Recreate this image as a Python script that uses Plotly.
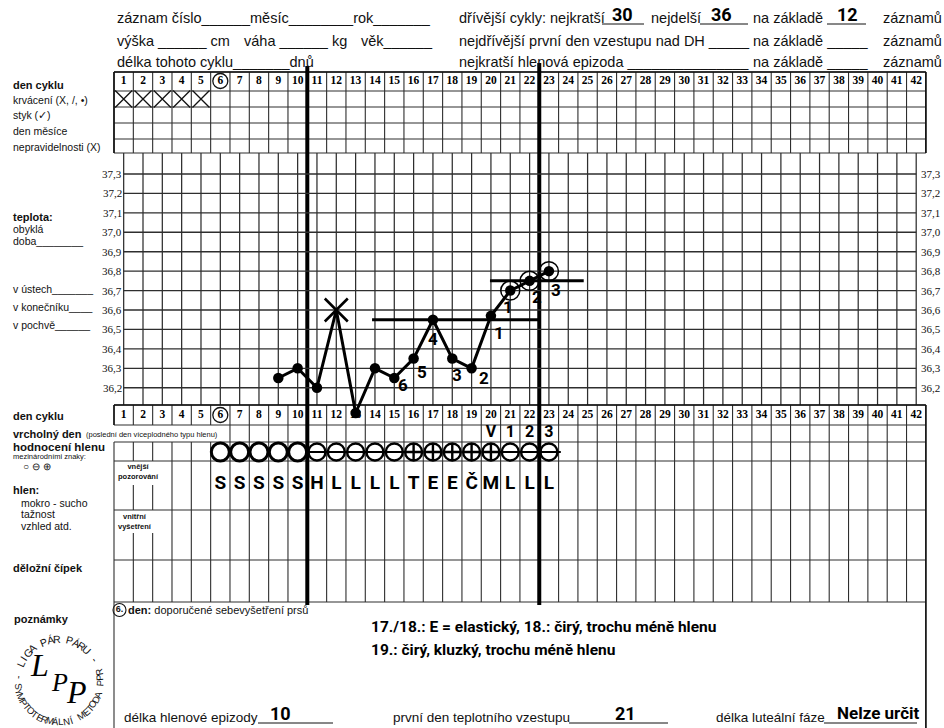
import math
import plotly.graph_objects as go

# ---------------- data ----------------
CYCLE_DAYS = list(range(1, 43))
TEMP_DAYS = [9, 10, 11, 12, 13, 14, 15, 16, 17, 18, 19, 20, 21, 22, 23]
TEMPS = [36.25, 36.30, 36.20, 36.60, 36.07, 36.30, 36.25, 36.35, 36.55, 36.35, 36.30, 36.57, 36.70, 36.75, 36.80]
DISTURBED_DAYS = [12]
CONFIRMED_DAYS = [21, 22, 23]
TEMP_TICKS = [37.3, 37.2, 37.1, 37.0, 36.9, 36.8, 36.7, 36.6, 36.5, 36.4, 36.3, 36.2]
TEMP_TICK_TEXT = ["37,3", "37,2", "37,1", "37,0", "36,9", "36,8", "36,7", "36,6", "36,5", "36,4", "36,3", "36,2"]
COUNT_DAYS = [15, 16, 17, 18, 19, 20, 21, 22, 23]
COUNT_TEXT = ["6", "5", "4", "3", "2", "1", "1", "2", "3"]
COVER_LOW = 36.55
COVER_LOW_SPAN = [13.85, 22.5]
COVER_HIGH = 36.75
COVER_HIGH_SPAN = [19.95, 24.8]
BLEED_DAYS = [1, 2, 3, 4, 5]
MUCUS_DAYS = list(range(6, 24))
MUCUS_SYMBOL = ["O"] * 5 + ["minus"] * 5 + ["plus"] * 5 + ["minus"] * 3
MUCUS_LETTERS = ["S", "S", "S", "S", "S", "H", "L", "L", "L", "L", "T", "E", "E", "Č", "M", "L", "L", "L"]
PEAK_DAYS = [20, 21, 22, 23]
PEAK_TEXT = ["V", "1", "2", "3"]
BREAST_DAY = 6
PHASE_LINES = [10.5, 22.5]
SHORTEST, LONGEST, N_RECORDS = "30", "36", "12"
MUCUS_LEN, TEMP_RISE_DAY, LUTEAL = "10", "21", "Nelze určit"
NOTES = ["17./18.: E = elastický, 18.: čirý, trochu méně hlenu",
         "19.: čirý, kluzký, trochu méně hlenu"]

# ---------------- geometry / style ----------------
W, H = 944, 728
X0, CW = 114.0, 19.33          # left edge of day grid, column width (px)
T_REF, Y_REF, PX_DEG = 37.3, 174.0, 194.3

SANS = "Liberation Sans, Arial, Helvetica, sans-serif"
SERIF = "Liberation Serif, Times New Roman, serif"
HAND = "Roboto, Liberation Sans, sans-serif"
INK = "#111111"
GRID = "#2e2e2e"

fig = go.Figure()


def segs_trace(segs, xa, ya, width, color=GRID):
    xs, ys = [], []
    for (x0, y0, x1, y1) in segs:
        xs += [x0, x1, None]
        ys += [y0, y1, None]
    fig.add_trace(go.Scatter(x=xs, y=ys, xaxis=xa, yaxis=ya, mode="lines",
                             line=dict(color=color, width=width),
                             hoverinfo="skip", showlegend=False))


BORDERS = [0.5 + i for i in range(43)]

# top table
TOP_ROWS = [72, 91, 107, 123, 139, 153]
segs = [(b, TOP_ROWS[0], b, TOP_ROWS[-1]) for b in BORDERS]
segs += [(0.5, y, 42.5, y) for y in TOP_ROWS]
segs_trace(segs, "x2", "y", 1.1)
segs_trace([(0.5, 72, 42.5, 72), (0.5, 72, 0.5, 153), (42.5, 72, 42.5, 153)], "x2", "y", 1.6, INK)

# temperature grid
segs_trace([(d, 153, d, 405) for d in CYCLE_DAYS], "x2", "y", 1.25)
segs_trace([(1, t, 42, t) for t in TEMP_TICKS], "x2", "y2", 1.35)

# lower table
LOW = [405, 425, 442, 461, 510, 560, 602]
segs = []
for b in BORDERS:
    segs.append((b, 405, b, 425))
    if b >= 6.5:
        segs.append((b, 425, b, 442))
    segs.append((b, 442, b, 461))
    if b in (1.5, 2.5):
        segs.append((b, 485, b, 510))
        segs.append((b, 533, b, 560))
    else:
        segs.append((b, 461, b, 560))
    segs.append((b, 560, b, 602))
segs += [(0.5, y, 42.5, y) for y in LOW]
segs += [(0.5, 602, 0.5, 728), (42.5, 602, 42.5, 728)]
segs_trace(segs, "x2", "y", 1.1)
segs_trace([(0.5, 405, 42.5, 405), (0.5, 405, 0.5, 425), (42.5, 405, 42.5, 728)], "x2", "y", 1.5, INK)

# phase division thick lines
segs_trace([(PHASE_LINES[0], 66, PHASE_LINES[0], 605), (PHASE_LINES[1], 63, PHASE_LINES[1], 605)],
           "x2", "y", 4, "#000000")

# blanks that carry handwritten values (pixel coords)
segs_trace([(602, 24, 644, 24), (700, 24, 748, 24), (827, 24, 866, 24),
            (258, 723, 333, 723), (569, 723, 668, 723), (824, 723, 917, 723)], "x", "y", 1, INK)

# day numbers (top and lower)
for yy in (81, 415):
    fig.add_trace(go.Scatter(x=CYCLE_DAYS, y=[yy] * len(CYCLE_DAYS), xaxis="x2", yaxis="y",
                             mode="text", text=[f"<b>{d}</b>" for d in CYCLE_DAYS],
                             textfont=dict(family=SERIF, size=11.5, color="#000"),
                             hoverinfo="skip", showlegend=False))
    fig.add_trace(go.Scatter(x=[BREAST_DAY], y=[yy], xaxis="x2", yaxis="y", mode="markers",
                             marker=dict(symbol="circle-open", size=15, color=INK, line=dict(width=1.3)),
                             hoverinfo="skip", showlegend=False))

# bleeding X
fig.add_trace(go.Scatter(x=BLEED_DAYS, y=[99] * len(BLEED_DAYS), xaxis="x2", yaxis="y", mode="markers",
                         marker=dict(symbol="x-thin-open", size=17, color=INK, line=dict(width=1.3, color=INK)),
                         hoverinfo="skip", showlegend=False))

# coverlines
for lvl, span in ((COVER_LOW, COVER_LOW_SPAN), (COVER_HIGH, COVER_HIGH_SPAN)):
    fig.add_trace(go.Scatter(x=span, y=[lvl, lvl], xaxis="x2", yaxis="y2", mode="lines",
                             line=dict(color="#000", width=3), hoverinfo="skip", showlegend=False))

# temperature curve
fig.add_trace(go.Scatter(x=TEMP_DAYS, y=TEMPS, xaxis="x2", yaxis="y2", mode="lines",
                         line=dict(color="#000", width=3), hoverinfo="skip", showlegend=False))
nd = [(d, t) for d, t in zip(TEMP_DAYS, TEMPS) if d not in DISTURBED_DAYS]
fig.add_trace(go.Scatter(x=[d for d, _ in nd], y=[t for _, t in nd], xaxis="x2", yaxis="y2", mode="markers",
                         marker=dict(symbol="circle", size=10.5, color="#000"),
                         hoverinfo="skip", showlegend=False))
dd = [(d, t) for d, t in zip(TEMP_DAYS, TEMPS) if d in DISTURBED_DAYS]
fig.add_trace(go.Scatter(x=[d for d, _ in dd], y=[t for _, t in dd], xaxis="x2", yaxis="y2", mode="markers",
                         marker=dict(symbol="x-thin-open", size=23, color="#000", line=dict(width=2.6, color="#000")),
                         hoverinfo="skip", showlegend=False))
cd = [(d, t) for d, t in zip(TEMP_DAYS, TEMPS) if d in CONFIRMED_DAYS]
fig.add_trace(go.Scatter(x=[d for d, _ in cd], y=[t for _, t in cd], xaxis="x2", yaxis="y2", mode="markers",
                         marker=dict(symbol="circle-open", size=19, color="#000", line=dict(width=1.5, color="#000")),
                         hoverinfo="skip", showlegend=False))


# mucus symbols
def days_for(kind):
    return [d for d, s in zip(MUCUS_DAYS, MUCUS_SYMBOL) if s == kind]


oo = days_for("O")
fig.add_trace(go.Scatter(x=oo, y=[452] * len(oo), xaxis="x2", yaxis="y", mode="markers",
                         marker=dict(symbol="circle-open", size=18, color="#000", line=dict(width=3, color="#000")),
                         hoverinfo="skip", showlegend=False))
mi = days_for("minus")
fig.add_trace(go.Scatter(x=mi, y=[452] * len(mi), xaxis="x2", yaxis="y", mode="markers",
                         marker=dict(symbol="circle-open", size=17, color="#000", line=dict(width=2.4, color="#000")),
                         hoverinfo="skip", showlegend=False))
fig.add_trace(go.Scatter(x=mi, y=[452] * len(mi), xaxis="x2", yaxis="y", mode="markers",
                         marker=dict(symbol="line-ew-open", size=17, color="#000", line=dict(width=2.0, color="#000")),
                         hoverinfo="skip", showlegend=False))
pl = days_for("plus")
fig.add_trace(go.Scatter(x=pl, y=[452] * len(pl), xaxis="x2", yaxis="y", mode="markers",
                         marker=dict(symbol="circle-cross-open", size=17, color="#000", line=dict(width=2.4, color="#000")),
                         hoverinfo="skip", showlegend=False))

# peak-day labels and mucus letters
fig.add_trace(go.Scatter(x=PEAK_DAYS, y=[433] * len(PEAK_DAYS), xaxis="x2", yaxis="y", mode="text",
                         text=[f"<b>{t}</b>" for t in PEAK_TEXT],
                         textfont=dict(family=HAND, size=16, color="#000"), hoverinfo="skip", showlegend=False))
fig.add_trace(go.Scatter(x=MUCUS_DAYS, y=[484] * len(MUCUS_DAYS), xaxis="x2", yaxis="y", mode="text",
                         text=[f"<b>{t}</b>" for t in MUCUS_LETTERS],
                         textfont=dict(family=HAND, size=19, color="#000"), hoverinfo="skip", showlegend=False))

# circled 6 in notes (pixel axes)
fig.add_trace(go.Scatter(x=[119.5], y=[610], xaxis="x", yaxis="y", mode="markers+text", text=["<b>6.</b>"],
                         textposition="middle center", textfont=dict(family=SANS, size=9, color=INK),
                         marker=dict(symbol="circle-open", size=13, color=INK, line=dict(width=1.1)),
                         hoverinfo="skip", showlegend=False))

# ---------------- annotations ----------------
ANN = []


def ann(text, x, y, size=10.5, family=SANS, xanchor="left", xref="x", yref="y",
        color=INK, angle=0, xshift=0, yshift=0):
    ANN.append(dict(text=text, x=x, y=y, xref=xref, yref=yref, showarrow=False,
                    xanchor=xanchor, yanchor="middle", textangle=angle,
                    xshift=xshift, yshift=yshift, borderpad=0,
                    font=dict(family=family, size=size, color=color)))


TOP = 14.5
ann("záznam číslo______měsíc________rok_______", 116, 18, TOP)
ann("výška ______ cm", 116, 41, TOP)
ann("váha ______ kg", 243, 41, TOP)
ann("věk______", 360, 41, TOP)
ann("délka tohoto cyklu_______dnů", 116, 62, TOP)
ann("dřívější cykly: nejkratší", 458, 18, TOP)
ann("nejdelší", 650, 18, TOP)
ann("na základě", 752, 18, TOP)
ann("záznamů", 943, 18, TOP, xanchor="right")
ann("nejdřívější první den vzestupu nad DH _____", 458, 41, TOP)
ann("na základě _____", 752, 41, TOP)
ann("záznamů", 943, 41, TOP, xanchor="right")
ann("nejkratší hlenová epizoda _______________", 458, 62, TOP)
ann("na základě _____", 752, 62, TOP)
ann("záznamů", 943, 62, TOP, xanchor="right")
ann(f"<b>{SHORTEST}</b>", 622, 14, 18, HAND, "center", color="#000")
ann(f"<b>{LONGEST}</b>", 721, 14, 18, HAND, "center", color="#000")
ann(f"<b>{N_RECORDS}</b>", 847, 14, 18, HAND, "center", color="#000")

LBL = 10.5
ann("<b>den cyklu</b>", 12, 85, 11)
ann("krvácení (X, /, •)", 12, 100, LBL)
ann("styk (✓)", 12, 115, LBL)
ann("den měsíce", 12, 131, LBL)
ann("nepravidelnosti (X)", 12, 147, LBL)
ann("<b>teplota:</b>", 12, 217, 11)
ann("obyklá", 12, 229, LBL)
ann("doba________", 12, 241, LBL)
ann("v ústech_______", 12, 289, LBL)
ann("v konečníku____", 12, 307, LBL)
ann("v pochvě______", 12, 325, LBL)
ann("<b>den cyklu</b>", 12, 416, 11)
ann("<b>vrcholný den</b>", 12, 434, 11)
ann("(poslední den víceplodného typu hlenu)", 85, 434, 7.5)
ann("<b>hodnocení hlenu</b>", 12, 447, 11.5)
ann("mezinárodními znaky:", 12, 456, 7.5)
ann("○ ⊖ ⊕", 22, 466, 10)
ann("<b>hlen:</b>", 12, 490, 11)
ann("mokro - sucho", 20, 503, LBL)
ann("tažnost", 20, 514, LBL)
ann("vzhled atd.", 20, 526, LBL)
ann("<b>děložní čípek</b>", 12, 568, 11)
ann("<b>poznámky</b>", 13, 619, 11)
ann("<b>vnější</b><br><b>pozorování</b>", 117, 471, 7.5)
ann("<b>vnitřní</b><br><b>vyšetření</b>", 117, 521, 7.5)

for t, s in zip(TEMP_TICKS, TEMP_TICK_TEXT):
    ann(s, 123, t, 11, SERIF, "right", yref="y2")
    ann(s, 920, t, 11, SERIF, "left", yref="y2")

COUNT_SHIFT = [(9, -7), (8, -13), (0, -19), (5, -16), (12, -10), (8, -17), (-2, -16), (7, -16), (7, -19)]
tmap = dict(zip(TEMP_DAYS, TEMPS))
for d, txt, (sx, sy) in zip(COUNT_DAYS, COUNT_TEXT, COUNT_SHIFT):
    ann(f"<b>{txt}</b>", d, tmap[d], 17, HAND, "center", xref="x2", yref="y2", color="#000",
        xshift=sx, yshift=sy)

ann("<b>den:</b> doporučené sebevyšetření prsů", 127, 610, 11)
ann(f"<b>{NOTES[0]}</b>", 370, 627, 15.5, HAND, color="#000")
ann(f"<b>{NOTES[1]}</b>", 370, 650, 15.5, HAND, color="#000")

BOT = 13.5
ann("délka hlenové epizody", 123, 717, BOT)
ann(f"<b>{MUCUS_LEN}</b>", 280, 713, 18, HAND, "center", color="#000")
ann("první den teplotního vzestupu", 392, 717, BOT)
ann(f"<b>{TEMP_RISE_DAY}</b>", 625, 713, 18, HAND, "center", color="#000")
ann("délka luteální fáze", 715, 717, BOT)
ann(f"<b>{LUTEAL}</b>", 836, 713, 17, HAND, "left", color="#000")

# logo
TOP_ARC = "- LIGA PÁR PÁRU -"
BOT_ARC = "SYMPTOTERMÁLNÍ METODA PPR"
cx, cy, r = 59, 681, 42
n = len(TOP_ARC)
for i, ch in enumerate(TOP_ARC):
    if ch == " ":
        continue
    th = 174 + (30 - 174) * i / (n - 1)
    x = cx + r * math.cos(math.radians(th))
    y = cy - r * math.sin(math.radians(th))
    ann(ch, x, y, 10.5, SANS, "center", angle=90 - th)
n = len(BOT_ARC)
for i, ch in enumerate(BOT_ARC):
    if ch == " ":
        continue
    th = 188 + (372 - 188) * i / (n - 1)
    x = cx + (r - 1) * math.cos(math.radians(th))
    y = cy - (r - 1) * math.sin(math.radians(th))
    ann(ch, x, y, 9.5, SANS, "center", angle=270 - th)
ann("<i>L</i>", 39, 665, 32, SERIF, "center", color="#000")
ann("<i>P</i>", 59, 682, 26, SERIF, "center", color="#000")
ann("<i>P</i>", 76, 692, 32, SERIF, "center", color="#000")

hid = dict(visible=False, showgrid=False, zeroline=False, fixedrange=True)
fig.update_layout(
    width=W, height=H, autosize=False,
    margin=dict(l=0, r=0, t=0, b=0, pad=0),
    paper_bgcolor="white", plot_bgcolor="white", showlegend=False,
    xaxis=dict(range=[0, W], domain=[0, 1], **hid),
    yaxis=dict(range=[H, 0], domain=[0, 1], **hid),
    xaxis2=dict(range=[0.5 - X0 / CW, 0.5 + (W - X0) / CW], overlaying="x", anchor="y", **hid),
    yaxis2=dict(range=[T_REF - (H - Y_REF) / PX_DEG, T_REF + Y_REF / PX_DEG], overlaying="y", anchor="x", **hid),
    annotations=ANN,
)

fig.write_html("out.html", config={"staticPlot": True},
               post_script="document.body.style.margin='0';document.body.style.overflow='hidden';")
